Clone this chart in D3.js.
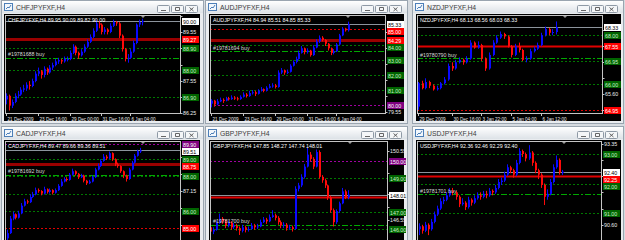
<!DOCTYPE html>
<html>
<head>
<meta charset="utf-8">
<script src="https://cdn.jsdelivr.net/npm/d3@7"></script>
<style>
body { margin: 0; background: #d6dbe0; }
svg { display: block; font-family: "Liberation Sans", Arial, sans-serif; }
</style>
</head>
<body>
<script>

// ---- CHFJPY H4
let chfOpen0 = 86.80;
let chfClose = [86.95,86.55,86.70,86.95,87.00,87.20,87.25,87.40,87.35,87.55,87.85,87.95,87.80,88.05,87.90,88.10,88.20,88.35,88.40,88.35,88.45,88.45,88.70,88.95,88.70,88.60,88.75,88.95,89.15,89.35,89.60,89.90,89.85,89.55,89.65,89.55,89.80,89.95,89.90,89.40,88.85,88.45,88.50,88.75,89.10,89.85,89.95,90.00];
let chfHigh = [87.05,87.00,86.80,87.05,87.15,87.30,87.40,87.50,87.55,87.65,87.95,88.10,88.00,88.15,88.10,88.20,88.30,88.45,88.50,88.45,88.55,88.55,88.80,89.05,89.00,88.75,88.85,89.05,89.25,89.45,89.70,90.05,90.00,89.90,89.75,89.70,89.90,90.05,90.00,89.95,89.45,88.90,88.65,88.85,89.20,89.90,90.05,90.09];
let chfLow = [86.60,86.35,86.45,86.65,86.85,86.95,87.10,87.15,87.20,87.30,87.50,87.75,87.65,87.70,87.80,87.85,88.00,88.15,88.25,88.25,88.30,88.35,88.40,88.65,88.60,88.45,88.55,88.70,88.90,89.10,89.30,89.55,89.70,89.45,89.45,89.45,89.50,89.75,89.80,89.30,88.75,88.35,88.30,88.45,88.70,89.05,89.75,89.82];
let chfTicks = [90.20,89.55,88.90,88.20,87.55,86.90,86.25];
let chfTimeLabels = ["21 Dec 2009","23 Dec 16:00","29 Dec 00:00","31 Dec 16:00","6 Jan 04:00"];
let chfTimeIdx = [0,11,22,33,43];
let chfLevels = [
	{price: 90.00, kind: "bid"},
	{price: 89.27, kind: "stop"},
	{price: 88.90, kind: "target"},
	{price: 88.49, kind: "order", note: "#19781688 buy"},
	{price: 88.00, kind: "target"},
	{price: 86.90, kind: "target"}
];

// ---- AUDJPY H4
let audOpen0 = 80.10;
let audClose = [80.30,80.05,80.25,80.35,80.30,80.45,80.40,80.50,80.45,80.40,80.55,80.70,80.60,80.80,80.85,80.75,80.95,81.05,80.95,81.15,81.25,81.30,81.20,82.15,82.30,82.15,82.20,82.60,82.85,83.05,83.45,83.75,83.50,83.60,83.30,83.80,84.20,84.45,84.30,84.05,83.75,83.45,83.55,84.00,84.60,85.05,84.94,85.33];
let audHigh = [80.40,80.35,80.40,80.50,80.45,80.55,80.55,80.65,80.60,80.55,80.65,80.85,80.80,80.95,81.00,80.95,81.05,81.20,81.10,81.25,81.40,81.45,81.40,82.30,82.45,82.35,82.35,82.70,82.95,83.20,83.60,83.90,83.80,83.75,83.65,83.95,84.35,84.60,84.55,84.35,84.10,83.80,83.70,84.10,84.70,85.15,85.10,85.51];
let audLow = [79.85,79.90,80.00,80.20,80.15,80.25,80.30,80.35,80.35,80.30,80.35,80.50,80.50,80.55,80.70,80.60,80.70,80.90,80.85,80.90,81.10,81.15,81.10,81.15,82.05,82.00,82.05,82.15,82.55,82.75,83.00,83.40,83.35,83.40,83.20,83.25,83.75,84.10,84.20,83.90,83.60,83.30,83.35,83.50,83.95,84.55,84.85,84.85];
let audTicks = [84.80,83.75,82.70,81.65,80.60,79.55];
let audTimeLabels = ["21 Dec 2009","23 Dec 16:00","29 Dec 00:00","31 Dec 16:00","6 Jan 04:00"];
let audTimeIdx = [0,11,22,33,43];
let audLevels = [
	{price: 85.33, kind: "bid"},
	{price: 85.00, kind: "redDot"},
	{price: 84.29, kind: "stop"},
	{price: 84.00, kind: "target"},
	{price: 83.57, kind: "order", note: "#19781694 buy"},
	{price: 83.00, kind: "target"},
	{price: 82.00, kind: "target"},
	{price: 81.00, kind: "target"},
	{price: 80.00, kind: "purpleDot"}
];

// ---- NZDJPY H4
let nzdOpen0 = 65.10;
let nzdClose = [66.05,65.85,66.10,65.95,65.80,65.85,66.05,66.20,66.75,66.65,66.90,67.00,66.90,67.05,67.70,67.50,67.60,67.05,66.65,67.20,67.70,67.90,68.05,67.95,67.55,67.20,67.55,67.40,67.00,67.05,67.35,67.45,67.60,68.00,68.25,68.10,68.13,68.33];
let nzdHigh = [66.10,66.15,66.25,66.15,66.00,65.95,66.10,66.30,66.85,66.90,67.00,67.10,67.05,67.15,67.80,67.75,67.75,67.65,67.10,67.30,67.80,68.00,68.15,68.10,68.00,67.60,67.65,67.70,67.45,67.15,67.45,67.55,67.70,68.10,68.35,68.30,68.25,68.56];
let nzdLow = [64.97,65.80,65.80,65.85,65.75,65.75,65.80,66.00,66.15,66.55,66.60,66.85,66.80,66.85,67.00,67.45,67.45,66.95,66.55,66.60,67.15,67.65,67.85,67.85,67.50,67.10,67.15,67.30,66.95,66.90,67.00,67.30,67.40,67.55,67.95,68.00,68.00,68.03];
let nzdTicks = [68.20,67.55,66.90,66.25,65.60,64.95];
let nzdTimeLabels = ["29 Dec 2009","30 Dec 16:00","3 Jan 22:00","5 Jan 04:00","6 Jan 12:00"];
let nzdTimeIdx = [0,9,17,25,33];
let nzdLevels = [
	{price: 68.33, kind: "bid"},
	{price: 68.00, kind: "target"},
	{price: 67.55, kind: "stopBright"},
	{price: 67.07, kind: "order", note: "#19780790 buy"},
	{price: 66.95, kind: "target"},
	{price: 66.00, kind: "target"},
	{price: 64.95, kind: "redDot"}
];

// ---- CADJPY H4
let cadOpen0 = 84.40;
let cadClose = [84.70,85.55,85.80,85.60,85.85,86.30,86.55,86.50,86.80,86.95,87.20,87.15,87.00,87.25,87.10,87.20,87.05,87.20,87.45,87.70,87.85,87.80,88.10,88.30,88.15,87.95,88.05,87.75,87.60,87.70,87.95,88.40,88.60,88.90,89.15,89.05,89.35,89.00,88.70,88.60,88.30,88.05,87.85,88.40,88.80,89.20,89.47,89.51];
let cadHigh = [84.90,85.70,85.95,85.85,86.00,86.45,86.70,86.65,86.95,87.10,87.35,87.30,87.20,87.40,87.30,87.30,87.25,87.30,87.55,87.85,87.95,87.95,88.20,88.45,88.35,88.20,88.15,88.10,87.80,87.80,88.05,88.50,88.75,89.00,89.30,89.25,89.45,89.40,89.05,88.80,88.65,88.35,88.10,88.50,88.90,89.30,89.55,89.66];
let cadLow = [84.30,84.65,85.45,85.50,85.55,85.80,86.25,86.40,86.45,86.75,86.90,87.05,86.90,86.95,87.00,87.00,86.95,87.00,87.15,87.40,87.65,87.70,87.75,88.05,88.05,87.85,87.90,87.65,87.50,87.55,87.65,87.90,88.35,88.55,88.85,88.95,89.00,88.90,88.60,88.50,88.20,87.90,87.70,87.80,88.35,88.75,89.15,89.36];
let cadTicks = [89.15,88.15,87.15,86.15,85.15];
let cadLevels = [
	{price: 89.90, kind: "purpleDot"},
	{price: 89.51, kind: "bid"},
	{price: 89.00, kind: "target"},
	{price: 88.75, kind: "stop"},
	{price: 88.10, kind: "order", note: "#19781692 buy"},
	{price: 88.00, kind: "target"},
	{price: 87.00, kind: "target", box: false},
	{price: 86.00, kind: "target"},
	{price: 85.00, kind: "redDot"}
];

// ---- GBPJPY H4
let gbpOpen0 = 146.10;
let gbpClose = [145.85,145.95,146.35,146.60,146.45,146.20,146.35,146.10,146.20,146.05,145.90,146.10,145.95,146.00,146.20,146.10,146.15,146.40,146.55,146.45,146.70,146.80,146.65,146.40,146.20,146.25,146.05,146.10,146.00,148.35,148.55,149.05,149.65,150.35,150.10,149.65,150.50,149.05,148.85,148.55,147.85,147.10,146.40,147.05,147.50,148.20,147.85,148.01];
let gbpHigh = [146.20,146.10,146.50,146.90,146.70,146.55,146.50,146.45,146.35,146.30,146.15,146.25,146.20,146.15,146.35,146.30,146.30,146.55,146.70,146.65,146.85,147.10,146.90,146.75,146.50,146.40,146.35,146.25,146.20,148.50,148.70,149.20,149.80,150.75,150.50,150.20,150.65,150.60,149.15,148.95,148.60,147.95,147.20,147.15,147.60,148.40,148.30,148.27];
let gbpLow = [145.60,145.70,145.90,146.30,146.30,146.05,146.10,145.95,146.00,145.90,145.65,145.80,145.80,145.85,145.95,145.95,146.00,146.10,146.35,146.30,146.40,146.65,146.50,146.25,146.05,146.05,145.90,145.95,145.85,145.95,148.20,148.45,148.95,149.60,149.95,149.50,149.60,148.95,148.70,148.40,147.70,146.95,146.15,146.30,146.95,147.45,147.75,147.74];
let gbpTicks = [150.55,149.30,148.05,147.30,146.55];
let gbpLevels = [
	{price: 150.00, kind: "purpleDot"},
	{price: 149.00, kind: "target"},
	{price: 148.01, kind: "bid"},
	{price: 147.90, kind: "stopBright", box: false},
	{price: 147.00, kind: "target"},
	{price: 146.25, kind: "order", note: "#19781700 buy"},
	{price: 146.00, kind: "target"}
];

// ---- USDJPY H4
let usdOpen0 = 90.45;
let usdClose = [90.55,90.40,90.60,90.45,90.70,90.95,91.15,91.40,91.45,91.60,91.75,91.70,91.55,91.30,91.35,91.20,91.45,91.35,91.50,91.60,91.55,91.65,91.60,91.75,91.70,91.85,92.05,92.10,92.30,92.55,92.45,92.30,92.70,93.10,93.00,92.85,93.05,92.70,92.45,92.30,91.95,91.55,91.65,92.05,92.55,92.80,92.36,92.40];
let usdHigh = [90.65,90.60,90.70,90.65,90.80,91.05,91.25,91.50,91.55,91.70,91.85,91.85,91.75,91.60,91.50,91.40,91.55,91.50,91.60,91.70,91.70,91.75,91.75,91.85,91.80,91.95,92.15,92.20,92.40,92.65,92.60,92.50,92.80,93.20,93.15,93.05,93.30,93.10,92.75,92.50,92.35,92.00,91.80,92.15,92.65,92.95,92.85,92.46];
let usdLow = [90.25,90.30,90.35,90.25,90.40,90.65,90.90,91.10,91.30,91.40,91.55,91.60,91.45,91.20,91.25,91.10,91.15,91.25,91.30,91.45,91.45,91.50,91.50,91.55,91.60,91.65,91.80,91.95,92.05,92.25,92.35,92.20,92.25,92.65,92.90,92.75,92.80,92.60,92.35,92.15,91.85,91.27,91.45,91.60,92.00,92.50,92.30,92.29];
let usdTicks = [93.35,92.80,92.25,91.70,91.15,90.60];
let usdLevels = [
	{price: 93.00, kind: "target"},
	{price: 92.40, kind: "bid"},
	{price: 92.25, kind: "stopBright"},
	{price: 92.00, kind: "target"},
	{price: 91.63, kind: "order", note: "#19781701 buy"},
	{price: 91.00, kind: "target"}
];

let width = 625;
let height = 240;

// window layout: win = [x, y, w, h], black = [x0, y0, x1, y1], plot = [x0, y0, x1, y1]
let panels = [
	{title: "CHFJPYFXF,H4", open0: chfOpen0, close: chfClose, high: chfHigh, low: chfLow, ticks: chfTicks, levels: chfLevels,
		times: chfTimeLabels, timeIdx: chfTimeIdx,
		win: [1, 0, 203, 124], black: [4, 14, 200, 121], plot: [5, 15, 180, 113], candleX: [6, 142],
		yDomain: [86.25, 90.20], yRange: [113, 16]},
	{title: "AUDJPYFXF,H4", open0: audOpen0, close: audClose, high: audHigh, low: audLow, ticks: audTicks, levels: audLevels,
		times: audTimeLabels, timeIdx: audTimeIdx,
		win: [205, 0, 203, 124], black: [209, 14, 404, 121], plot: [210, 15, 385, 113], candleX: [211, 348],
		yDomain: [79.55, 83.75], yRange: [112, 48.3]},
	{title: "NZDJPYFXF,H4", open0: nzdOpen0, close: nzdClose, high: nzdHigh, low: nzdLow, ticks: nzdTicks, levels: nzdLevels,
		times: nzdTimeLabels, timeIdx: nzdTimeIdx,
		win: [412, 0, 212, 124], black: [416, 14, 621, 121], plot: [417, 15, 602, 113], candleX: [418, 556],
		yDomain: [64.95, 68.20], yRange: [110.3, 30.3]},
	{title: "CADJPYFXF,H4", open0: cadOpen0, close: cadClose, high: cadHigh, low: cadLow, ticks: cadTicks, levels: cadLevels,
		times: [], timeIdx: [],
		win: [1, 126, 203, 120], black: [4, 140, 200, 246], plot: [5, 141, 180, 250], candleX: [7, 140],
		yDomain: [85.00, 89.00], yRange: [228, 159.2]},
	{title: "GBPJPYFXF,H4", open0: gbpOpen0, close: gbpClose, high: gbpHigh, low: gbpLow, ticks: gbpTicks, levels: gbpLevels,
		times: [], timeIdx: [],
		win: [205, 126, 203, 120], black: [209, 140, 404, 246], plot: [210, 141, 387, 250], candleX: [210, 348],
		yDomain: [146.00, 150.00], yRange: [229, 160.6]},
	{title: "USDJPYFXF,H4", open0: usdOpen0, close: usdClose, high: usdHigh, low: usdLow, ticks: usdTicks, levels: usdLevels,
		times: [], timeIdx: [],
		win: [412, 126, 212, 120], black: [416, 140, 621, 246], plot: [417, 141, 601, 250], candleX: [419, 562],
		yDomain: [91.00, 93.00], yRange: [213, 154]}
];

let lineStyle = {
	bid: {color: "#8c949c", width: 1, dash: null},
	stop: {color: "#9a0000", width: 3, dash: null},
	stopBright: {color: "#e00000", width: 2, dash: null},
	target: {color: "#007800", width: 1, dash: "2,2"},
	redDot: {color: "#e00000", width: 1, dash: "2,2"},
	purpleDot: {color: "#a000a0", width: 1, dash: "2,2"},
	order: {color: "#00a800", width: 1, dash: "6,2,2,2"}
};

let boxStyle = {
	bid: {fill: "#ffffff", text: "#000000"},
	stop: {fill: "#ff0000", text: "#ffffff"},
	stopBright: {fill: "#ff0000", text: "#ffffff"},
	target: {fill: "#006400", text: "#c8f0c8"},
	redDot: {fill: "#ff0000", text: "#ffffff"},
	purpleDot: {fill: "#800080", text: "#ffffff"}
};

let fontSmall = 5.3;
let fontTime = 4.6;

let svg = d3.select("body")
	.append("svg")
		.attr("width", width)
		.attr("height", height);

svg.append("rect")
	.attr("width", width)
	.attr("height", height)
	.attr("fill", "#d6dbe0");

let defs = svg.append("defs");
let grad = defs.append("linearGradient")
	.attr("id", "tbar")
	.attr("x1", 0).attr("y1", 0).attr("x2", 0).attr("y2", 1);
grad.append("stop").attr("offset", "0%").attr("stop-color", "#ffffff");
grad.append("stop").attr("offset", "100%").attr("stop-color", "#dde2e7");

panels.forEach((p, k) => {
	let [wx, wy, ww, wh] = p.win;
	let [bx0, by0, bx1, by1] = p.black;
	let [px0, py0, px1, py1] = p.plot;
	let g = svg.append("g");

	// window frame + title bar
	g.append("rect")
		.attr("x", wx + 0.5).attr("y", wy + 0.5)
		.attr("width", ww - 1).attr("height", wh - 1)
		.attr("fill", "#e9ecef")
		.attr("stroke", "#9aa5b0");
	g.append("rect")
		.attr("x", wx + 1).attr("y", wy + 1)
		.attr("width", ww - 2).attr("height", 12)
		.attr("fill", "url(#tbar)");
	g.append("rect")
		.attr("x", wx + 3.5).attr("y", wy + 3.5)
		.attr("width", 8).attr("height", 7)
		.attr("fill", "#f2f7fc")
		.attr("stroke", "#4d7fb8");
	g.append("path")
		.attr("d", `M${wx + 5},${wy + 9} L${wx + 7},${wy + 7} L${wx + 8},${wy + 8} L${wx + 10},${wy + 5}`)
		.attr("fill", "none")
		.attr("stroke", "#4d7fb8");
	g.append("text")
		.attr("x", wx + 15).attr("y", wy + 10)
		.attr("font-size", 6.8)
		.attr("fill", "#3c3c3c")
		.text(p.title);

	[ww - 47, ww - 33, ww - 19].forEach((off, i) => {
		let x = wx + off, y = wy + 5;
		g.append("rect")
			.attr("x", x + 0.5).attr("y", y + 0.5)
			.attr("width", 12).attr("height", 7).attr("rx", 1)
			.attr("fill", "#f4f6f8")
			.attr("stroke", "#8e99a5");
		let glyph = i === 0 ? `M${x + 4},${y + 5.5} h5`
			: i === 1 ? `M${x + 4.5},${y + 2.5} h4 v3 h-4 Z`
			: `M${x + 4.5},${y + 2.5} l4,3.5 M${x + 8.5},${y + 2.5} l-4,3.5`;
		g.append("path").attr("d", glyph).attr("fill", "none").attr("stroke", "#555").attr("stroke-width", 0.9);
	});

	// chart background
	g.append("rect")
		.attr("x", bx0).attr("y", by0)
		.attr("width", bx1 - bx0).attr("height", by1 - by0)
		.attr("fill", "#000000");

	let clipId = "clip" + k;
	defs.append("clipPath").attr("id", clipId)
		.append("rect")
			.attr("x", px0).attr("y", py0)
			.attr("width", px1 - px0).attr("height", Math.min(py1, by1) - py0);

	let yScale = d3.scaleLinear().domain(p.yDomain).range(p.yRange);
	let xScale = d3.scaleLinear().domain([0, p.close.length - 1]).range(p.candleX);

	let bars = p.close.map((c, i) => ({
		o: i === 0 ? p.open0 : p.close[i - 1],
		h: p.high[i], l: p.low[i], c: c, i: i
	}));

	let plot = g.append("g").attr("clip-path", `url(#${clipId})`);

	// level lines
	p.levels.forEach((lv) => {
		let st = lineStyle[lv.kind];
		let y = Math.round(yScale(lv.price)) + 0.5;
		plot.append("line")
			.attr("x1", px0).attr("x2", px1)
			.attr("y1", y).attr("y2", y)
			.attr("stroke", st.color)
			.attr("stroke-width", st.width)
			.attr("stroke-dasharray", st.dash);
	});

	// candles
	let candle = plot.selectAll("g.candle")
		.data(bars)
		.enter().append("g")
		.attr("class", "candle");
	let colorOf = (d) => d.c >= d.o ? "#0a0aff" : "#ff0a0a";
	candle.append("line")
		.attr("x1", (d) => Math.round(xScale(d.i)) + 0.5)
		.attr("x2", (d) => Math.round(xScale(d.i)) + 0.5)
		.attr("y1", (d) => yScale(d.h))
		.attr("y2", (d) => yScale(d.l))
		.attr("stroke", colorOf)
		.attr("stroke-width", 1);
	candle.append("rect")
		.attr("x", (d) => Math.round(xScale(d.i)))
		.attr("y", (d) => yScale(Math.max(d.o, d.c)))
		.attr("width", 2)
		.attr("height", (d) => Math.max(1, Math.abs(yScale(d.o) - yScale(d.c))))
		.attr("fill", colorOf);

	// order labels
	p.levels.filter((lv) => lv.kind === "order").forEach((lv) => {
		plot.append("text")
			.attr("x", px0 + 3)
			.attr("y", yScale(lv.price) - 1.5)
			.attr("font-size", fontSmall)
			.attr("fill", "#d8d8d8")
			.text(lv.note);
	});

	// header line: symbol + OHLC of last bar
	let last = bars[bars.length - 1];
	plot.append("text")
		.attr("x", px0 + 3).attr("y", py0 + 6.5)
		.attr("font-size", fontSmall)
		.attr("fill", "#ffffff")
		.text(`${p.title} ${last.o.toFixed(2)} ${last.h.toFixed(2)} ${last.l.toFixed(2)} ${last.c.toFixed(2)}`);

	// shift marker
	let sx = px1 - 37;
	g.append("path")
		.attr("d", `M${sx - 2.5},${py0 + 0.5} L${sx + 2.5},${py0 + 0.5} L${sx},${py0 + 3} Z`)
		.attr("fill", "#9a9a9a");

	// plot frame
	g.append("rect")
		.attr("x", px0 + 0.5).attr("y", py0 + 0.5)
		.attr("width", px1 - px0).attr("height", py1 - py0)
		.attr("fill", "none")
		.attr("stroke", "#c4c4c4");

	// price boxes: keep them from overlapping, bid drawn last
	let boxed = p.levels.filter((lv) => lv.kind !== "order" && lv.box !== false)
		.map((lv) => ({lv: lv, y: Math.round(yScale(lv.price))}))
		.sort((a, b) => a.y - b.y);
	for (let i = 1; i < boxed.length; i++) {
		if (boxed[i].y - boxed[i - 1].y < 7) boxed[i].y = boxed[i - 1].y + 7;
	}
	let boxYs = boxed.map((b) => b.y);

	p.ticks.forEach((v) => {
		let y = yScale(v);
		g.append("line")
			.attr("x1", px1 + 0.5).attr("x2", px1 + 2.5)
			.attr("y1", Math.round(y) + 0.5).attr("y2", Math.round(y) + 0.5)
			.attr("stroke", "#c4c4c4");
		if (boxYs.some((by) => Math.abs(by - y) < 6.5)) return;
		g.append("text")
			.attr("x", px1 + 3).attr("y", y + 2)
			.attr("font-size", fontSmall)
			.attr("fill", "#eeeeee")
			.text(v.toFixed(2));
	});

	boxed.sort((a, b) => (a.lv.kind === "bid") - (b.lv.kind === "bid"))
		.forEach((b) => {
			let bs = boxStyle[b.lv.kind];
			g.append("rect")
				.attr("x", px1 + 2).attr("y", b.y - 3)
				.attr("width", 17).attr("height", 7)
				.attr("fill", bs.fill);
			g.append("text")
				.attr("x", px1 + 3).attr("y", b.y + 2.5)
				.attr("font-size", fontSmall)
				.attr("fill", bs.text)
				.text(b.lv.price.toFixed(2));
		});

	// time axis
	p.timeIdx.forEach((idx, j) => {
		let x = Math.round(xScale(idx)) + 0.5;
		g.append("line")
			.attr("x1", x).attr("x2", x)
			.attr("y1", py1 + 1).attr("y2", py1 + 3)
			.attr("stroke", "#c4c4c4");
		g.append("text")
			.attr("x", x + 1).attr("y", py1 + 7.5)
			.attr("font-size", fontTime)
			.attr("fill", "#eeeeee")
			.text(p.times[j]);
	});
});

</script>
</body>
</html>
